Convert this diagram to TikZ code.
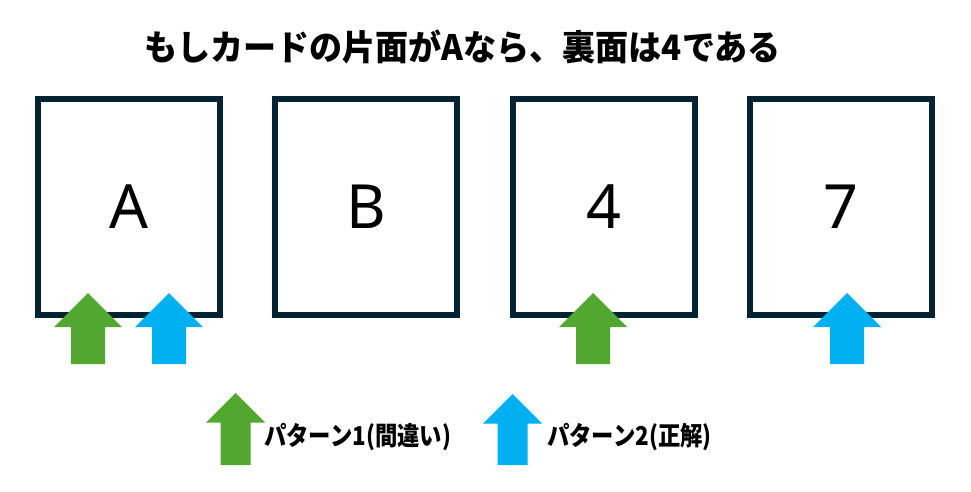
\documentclass[tikz,border=0pt]{standalone}
\usepackage{fontspec}
\setmainfont{Noto Sans}
\newfontfamily\jptitle{Noto Sans CJK JP}[FakeStretch=0.945]
\newfontfamily\jpleg{Noto Sans CJK JP}[FakeStretch=0.86]
\definecolor{cardline}{RGB}{3,35,51}
\definecolor{pgreen}{RGB}{82,167,48}
\definecolor{pblue}{RGB}{0,176,240}
\tikzset{
  card/.style={draw=cardline, line width=5.5pt, minimum width=182pt, minimum height=216pt, inner sep=0pt, fill=white,
    font=\fontsize{61}{70}\selectfont, text=black},
  legtext/.style={anchor=west, inner sep=0pt, font=\jpleg\bfseries\fontsize{26}{30}\selectfont},
}
% #1 colour, #2 x, #3 tip y, #4 head half-width (= head height), #5 shaft half-width, #6 bottom y
\newcommand\updart[6]{%
  \fill[#1] (#2,#3) -- ({#2+#4},{#3+#4}) -- ({#2+#5},{#3+#4}) -- ({#2+#5},#6)
    -- ({#2-#5},#6) -- ({#2-#5},{#3+#4}) -- ({#2-#4},{#3+#4}) -- cycle;}
\begin{document}
\begin{tikzpicture}[x=1pt,y=-1pt]
\useasboundingbox (0,0) rectangle (971,491);
\node[inner sep=0pt, font=\jptitle\bfseries\fontsize{35}{42}\selectfont] (title) at (462.5,47) {もしカードの片面がAなら、裏面は4である};
\node[card] (cA) at (129,207) {\raisebox{-3pt}{A}};
\node[card] (cB) at (366,207) {\raisebox{-3pt}{B}};
\node[card] (c4) at (604,207) {\raisebox{-3pt}{4}};
\node[card] (c7) at (841,207) {\raisebox{-3pt}{7}};
\updart{pgreen}{88}{293}{34}{17}{364}
\updart{pblue}{169}{293}{34}{17}{364}
\updart{pgreen}{593}{293}{34}{17}{364}
\updart{pblue}{847}{293}{34}{17}{364}
\updart{pgreen}{235.7}{393}{29.5}{15}{465}
\updart{pblue}{512.7}{394}{29.5}{15}{465}
\node[legtext] (l1) at (264,437) {パターン1(間違い)};
\node[legtext] (l2) at (547,437) {パターン2(正解)};
\end{tikzpicture}
\end{document}
